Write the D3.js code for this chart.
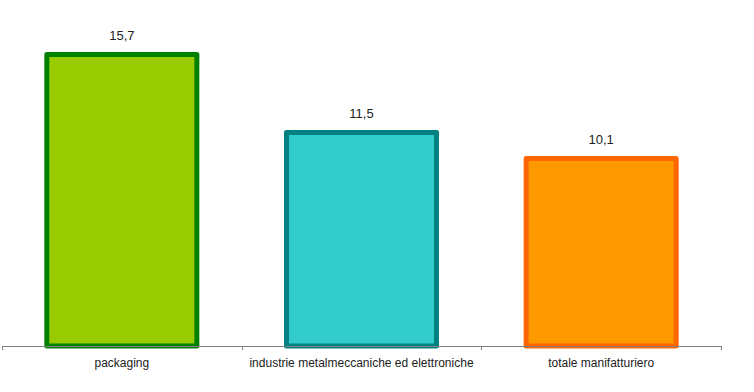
<!DOCTYPE html>
<html>
<head>
<meta charset="utf-8">
<script src="https://cdn.jsdelivr.net/npm/d3@7"></script>
<style>
  html, body { margin: 0; padding: 0; background: #ffffff; }
  svg { display: block; }
  text { font-family: "Liberation Sans", Arial, sans-serif; }
</style>
</head>
<body>
<svg id="chart" width="754" height="392"></svg>
<script>
const categories = ["packaging", "industrie metalmeccaniche ed elettroniche", "totale manifatturiero"];
const values = [15.7, 11.5, 10.1];
const valueLabels = ["15,7", "11,5", "10,1"];
const fillColors = ["#99cc00", "#33cccc", "#ff9900"];
const strokeColors = ["#008000", "#008080", "#ff6600"];

const svg = d3.select("#chart");
const W = 754, H = 392;
const plot = { left: 2, right: 721, top: 11.7, bottom: 346 };

const xAxisScale = d3.scaleBand().domain(categories).range([plot.left, plot.right]).padding(0);
const xBar = d3.scaleBand().domain(categories).range([plot.left, plot.right])
  .paddingInner(0.374).paddingOuter(0.187);
const y = d3.scaleLinear().domain([0, 18]).range([plot.bottom, plot.top]);

const data = categories.map((c, i) => ({ c, v: values[i], lab: valueLabels[i], fill: fillColors[i], stroke: strokeColors[i] }));

// bars
svg.append("g").selectAll("rect").data(data).join("rect")
  .attr("x", d => xBar(d.c))
  .attr("y", d => y(d.v))
  .attr("width", xBar.bandwidth())
  .attr("height", d => y(0) - y(d.v))
  .attr("fill", d => d.fill)
  .attr("stroke", d => d.stroke)
  .attr("stroke-width", 5)
  .attr("stroke-linejoin", "round");

// axis
const axisG = svg.append("g").attr("transform", `translate(0,${plot.bottom})`);
axisG.append("line")
  .attr("x1", plot.left).attr("x2", plot.right)
  .attr("y1", 0.5).attr("y2", 0.5)
  .attr("stroke", "#808080").attr("stroke-width", 1);
const tickPositions = categories.map(c => xAxisScale(c)).concat([xAxisScale(categories[categories.length - 1]) + xAxisScale.bandwidth()]);
axisG.selectAll("line.tick").data(tickPositions).join("line")
  .attr("class", "tick")
  .attr("x1", d => Math.round(d) + 0.5).attr("x2", d => Math.round(d) + 0.5)
  .attr("y1", 0).attr("y2", 4)
  .attr("stroke", "#808080").attr("stroke-width", 1);

// category labels
axisG.selectAll("text").data(categories).join("text")
  .attr("x", d => xAxisScale(d) + xAxisScale.bandwidth() / 2)
  .attr("y", 21)
  .attr("text-anchor", "middle")
  .attr("font-size", "12px")
  .attr("fill", "#222")
  .text(d => d);

// value labels
svg.append("g").selectAll("text").data(data).join("text")
  .attr("x", d => xBar(d.c) + xBar.bandwidth() / 2)
  .attr("y", d => y(d.v) - 14)
  .attr("text-anchor", "middle")
  .attr("font-size", "13px")
  .attr("fill", "#222")
  .text(d => d.lab);
</script>
</body>
</html>
